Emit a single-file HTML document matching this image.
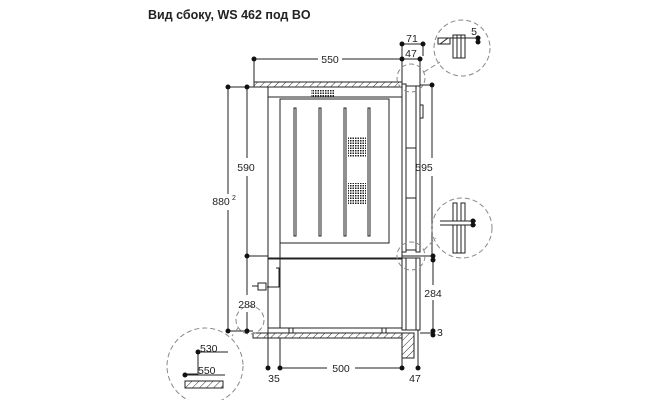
<!DOCTYPE html>
<html><head><meta charset="utf-8"><style>
html,body{margin:0;padding:0;background:#fff;}
svg{display:block;}
text{font-family:"Liberation Sans",sans-serif;fill:#222;}
</style></head><body>
<svg width="650" height="400" viewBox="0 0 650 400" xmlns="http://www.w3.org/2000/svg">
<defs>
<pattern id="h" width="5" height="5" patternUnits="userSpaceOnUse" patternTransform="rotate(45)">
<line x1="0" y1="0" x2="0" y2="5" stroke="#333" stroke-width="1"/></pattern>
<pattern id="d" width="2.5" height="2.5" patternUnits="userSpaceOnUse">
<rect x="0" y="0" width="1.5" height="1.5" fill="#222"/></pattern>
</defs>
<text x="148" y="19" font-size="12.5" font-weight="bold">Вид сбоку, WS 462 под BO</text>

<g stroke="#222" stroke-width="1" fill="none">
<line x1="254" y1="59" x2="318" y2="59"/><line x1="342" y1="59" x2="402" y2="59"/>
<line x1="254" y1="59" x2="254" y2="82"/>
<line x1="402" y1="44" x2="402" y2="84"/><line x1="423" y1="44" x2="423" y2="56"/>
<line x1="402" y1="44" x2="423" y2="44"/><line x1="402" y1="59" x2="420" y2="59"/>
<line x1="420" y1="59" x2="420" y2="95"/>
<rect x="254" y="82" width="148" height="5" fill="url(#h)"/>
<rect x="268" y="87" width="134" height="171"/>
<line x1="268" y1="97" x2="402" y2="97"/>
<rect x="280" y="99" width="109" height="144"/>
<line x1="280" y1="99" x2="280" y2="258"/>
<rect x="294" y="108" width="2" height="128"/>
<rect x="319" y="108" width="2" height="128"/>
<rect x="344" y="108" width="2" height="128"/>
<rect x="368" y="108" width="2" height="128"/>
<rect x="402" y="84" width="4" height="168"/>
<rect x="406" y="86" width="10" height="164"/>
<rect x="416" y="86" width="4" height="166"/>
<rect x="420" y="105" width="3" height="13"/>
<line x1="406" y1="148" x2="416" y2="148"/><line x1="406" y1="198" x2="416" y2="198"/>
<line x1="432" y1="85" x2="432" y2="158"/><line x1="432" y1="176" x2="432" y2="259"/>
<line x1="420" y1="85" x2="432" y2="85"/>
<line x1="433" y1="259" x2="433" y2="285"/><line x1="433" y1="300" x2="433" y2="333"/>
<line x1="402" y1="256" x2="433" y2="256"/>
<line x1="420" y1="333" x2="433" y2="333"/>
<line x1="228" y1="87" x2="228" y2="194"/><line x1="228" y1="210" x2="228" y2="331"/>
<line x1="247" y1="87" x2="247" y2="158"/><line x1="247" y1="176" x2="247" y2="295"/>
<line x1="247" y1="312" x2="247" y2="331"/>
<line x1="228" y1="87" x2="268" y2="87"/>
<line x1="247" y1="256" x2="268" y2="256"/>
<line x1="228" y1="331" x2="253" y2="331"/>
<rect x="268" y="259" width="12" height="69"/>
<rect x="280" y="259" width="122" height="69"/>
<line x1="289" y1="328" x2="289" y2="333"/><line x1="293" y1="328" x2="293" y2="333"/>
<line x1="382" y1="328" x2="382" y2="333"/><line x1="386" y1="328" x2="386" y2="333"/>
<rect x="402" y="258" width="4" height="72"/>
<rect x="406" y="258" width="10" height="72"/>
<rect x="416" y="258" width="4" height="72"/>
<path d="M276 268 h3 v19 h-12"/>
<rect x="258" y="283" width="8" height="7"/>
<line x1="252" y1="286" x2="258" y2="286"/>
<rect x="253" y="333" width="149" height="5" fill="url(#h)"/>
<rect x="402" y="333" width="12" height="25" fill="url(#h)"/>
<line x1="268" y1="328" x2="268" y2="368"/><line x1="280" y1="338" x2="280" y2="368"/>
<line x1="402" y1="358" x2="402" y2="368"/><line x1="418" y1="330" x2="418" y2="368"/>
<line x1="280" y1="368" x2="327" y2="368"/><line x1="355" y1="368" x2="402" y2="368"/>
</g>
<rect x="311" y="89" width="24" height="8" fill="url(#d)"/>
<rect x="348" y="137" width="18" height="20" fill="url(#d)"/>
<rect x="348" y="183" width="18" height="21" fill="url(#d)"/>
<g stroke="#888" stroke-width="1" fill="none" stroke-dasharray="5,3">
<circle cx="462" cy="48" r="28"/><circle cx="462" cy="228" r="30"/>
<circle cx="411" cy="78" r="14"/><circle cx="411" cy="256" r="14"/>
<circle cx="250" cy="320" r="14"/><circle cx="205" cy="366" r="38"/>
<line x1="424" y1="72" x2="440" y2="62"/><line x1="424" y1="250" x2="436" y2="238"/>
<line x1="238" y1="328" x2="232" y2="336"/>
</g>
<g stroke="#222" stroke-width="1" fill="none">
<path d="M438 38 h12 v6 h-12 z M440 44 l8 -6"/>
<rect x="453" y="35" width="12" height="23"/><line x1="457" y1="35" x2="457" y2="58"/><line x1="461" y1="35" x2="461" y2="58"/>
<line x1="450" y1="38" x2="478" y2="38"/>
<rect x="453" y="203" width="4" height="18"/><rect x="461" y="203" width="4" height="18"/>
<line x1="440" y1="221" x2="476" y2="221"/><line x1="440" y1="225" x2="476" y2="225"/>
<rect x="453" y="225" width="12" height="28"/><line x1="457" y1="225" x2="457" y2="253"/><line x1="461" y1="225" x2="461" y2="253"/>
<path d="M198 352 v22 h-13 M198 352 h30 M185 375 h40"/>
<rect x="185" y="381" width="38" height="7" fill="url(#h)"/>
</g>
<g fill="#111">
<circle cx="254" cy="59" r="2.5"/><circle cx="402" cy="59" r="2.5"/><circle cx="420" cy="59" r="2.5"/>
<circle cx="402" cy="44" r="2.5"/><circle cx="423" cy="44" r="2.5"/>
<circle cx="432" cy="85" r="2.5"/><circle cx="433" cy="256" r="2.5"/><circle cx="433" cy="260" r="2.5"/>
<circle cx="433" cy="331" r="2.5"/><circle cx="433" cy="335" r="2.5"/>
<circle cx="228" cy="87" r="2.5"/><circle cx="247" cy="87" r="2.5"/>
<circle cx="247" cy="256" r="2.5"/><circle cx="228" cy="331" r="2.5"/><circle cx="247" cy="331" r="2.5"/>
<circle cx="268" cy="368" r="2.5"/><circle cx="280" cy="368" r="2.5"/><circle cx="402" cy="368" r="2.5"/><circle cx="418" cy="368" r="2.5"/>
<circle cx="478" cy="38" r="2.5"/><circle cx="478" cy="42" r="2.5"/>
<circle cx="473" cy="221" r="2.5"/><circle cx="473" cy="225" r="2.5"/>
<circle cx="198" cy="352" r="2.5"/><circle cx="185" cy="375" r="2.5"/>
</g>
<g font-size="10.5">
<text x="330" y="63" text-anchor="middle">550</text>
<text x="412" y="42" text-anchor="middle">71</text>
<text x="411" y="57" text-anchor="middle">47</text>
<text x="474" y="35" text-anchor="middle">5</text>
<text x="246" y="171" text-anchor="middle">590</text>
<text x="424" y="171" text-anchor="middle">595</text>
<text x="221" y="205" text-anchor="middle">880</text><text x="232" y="200" font-size="7">2</text>
<text x="247" y="308" text-anchor="middle">288</text>
<text x="433" y="297" text-anchor="middle">284</text>
<text x="437" y="336">3</text>
<text x="274" y="382" text-anchor="middle">35</text>
<text x="341" y="372" text-anchor="middle">500</text>
<text x="415" y="382" text-anchor="middle">47</text>
<text x="200" y="352">530</text>
<text x="198" y="374">550</text>
</g>
</svg>
</body></html>
